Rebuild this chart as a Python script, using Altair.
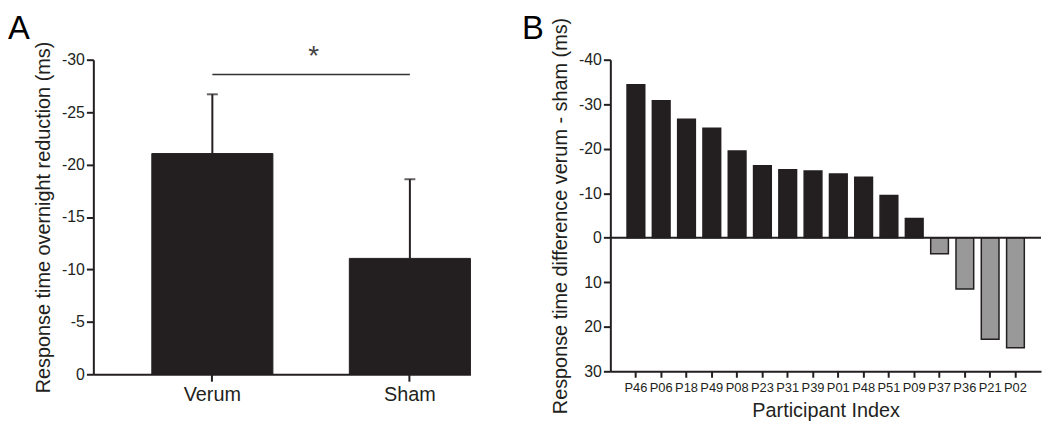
import altair as alt
import pandas as pd

# ---- Panel A data ----
groups = ["Verum", "Sham"]
means = [-21.05, -11.05]
err_tops = [-26.7, -18.6]
sig_level = -28.6

# ---- Panel B data ----
participants = ["P46", "P06", "P18", "P49", "P08", "P23", "P31", "P39",
                "P01", "P48", "P51", "P09", "P37", "P36", "P21", "P02"]
diffs = [-34.4, -30.8, -26.6, -24.6, -19.5, -16.2, -15.3, -15.0,
         -14.3, -13.6, -9.5, -4.3, 3.6, 11.5, 22.8, 24.7]

a_ticks = [-30, -25, -20, -15, -10, -5, 0]
b_ticks = [-40, -30, -20, -10, 0, 10, 20, 30]

INK = "#231f20"
GRAY = "#999999"
FONT = "Liberation Sans"

dfA = pd.DataFrame({"group": groups, "mean": means, "err": err_tops})
dfB = pd.DataFrame({
    "participant": participants,
    "diff": diffs,
    "sign": ["neg" if d < 0 else "pos" for d in diffs],
})

# ---------------- Panel A ----------------
xA = alt.X("group:N", sort=groups,
           scale=alt.Scale(paddingInner=0.387, paddingOuter=0.148, align=1),
           axis=alt.Axis(title=None, labelAngle=0, labelFontSize=20,
                         labelPadding=3, tickSize=7))
yA_scale = alt.Scale(domain=[-30, 0], reverse=True, nice=False)
yA = alt.Y("mean:Q", scale=yA_scale,
           axis=alt.Axis(values=a_ticks, labelExpr="'' + datum.value",
                         title="Response time overnight reduction (ms)",
                         titleFontSize=20, titlePadding=8, labelFontSize=16,
                         tickSize=7, labelPadding=2))

baseA = alt.Chart(dfA)
barsA = baseA.mark_bar(color=INK, stroke=INK, strokeWidth=1).encode(x=xA, y=yA)
errA = baseA.mark_rule(color=INK, strokeWidth=2).encode(
    x=alt.X("group:N", sort=groups), y=alt.Y("err:Q"), y2="mean:Q")
capA = baseA.mark_tick(color=INK, thickness=2, size=11, orient="horizontal").encode(
    x=alt.X("group:N", sort=groups), y=alt.Y("err:Q"))

sigA = alt.Chart(pd.DataFrame({"s": ["*"]})).mark_rule(color="#333333", strokeWidth=1.5).encode(
    x=alt.datum("Verum"), x2=alt.datum("Sham"), y=alt.datum(sig_level))
starA = alt.Chart(pd.DataFrame({"s": ["*"]})).mark_text(
    fontSize=28, font=FONT, color="#444444", dx=102, dy=-17, baseline="middle").encode(
    x=alt.datum("Verum"), y=alt.datum(sig_level), text="s:N")
letterA = alt.Chart(pd.DataFrame({"t": ["A"]})).mark_text(
    fontSize=33, font=FONT, color="#000000", align="left", baseline="alphabetic").encode(
    x=alt.value(-86), y=alt.value(-20.5), text="t:N")

panelA = alt.layer(barsA, errA, capA, sigA, starA, letterA).properties(width=380, height=317)

# ---------------- Panel B ----------------
xB = alt.X("participant:N", sort=participants,
           scale=alt.Scale(paddingInner=0.3, paddingOuter=0.66),
           axis=alt.Axis(title="Participant Index", labelAngle=0, labelFontSize=13,
                         labelOverlap=False, labelBound=False, labelPadding=4,
                         tickSize=6, titleFontSize=20, titlePadding=7,
                         titleFontWeight="normal"))
yB = alt.Y("diff:Q", scale=alt.Scale(domain=[-40, 30], reverse=True, nice=False),
           axis=alt.Axis(values=b_ticks, labelExpr="'' + datum.value",
                         title="Response time difference verum - sham (ms)",
                         titleFontSize=20, titlePadding=8, labelFontSize=16,
                         tickSize=7, labelPadding=2))

barsB = alt.Chart(dfB).mark_bar(stroke=INK, strokeWidth=1.5).encode(
    x=xB, y=yB,
    color=alt.Color("sign:N", scale=alt.Scale(domain=["neg", "pos"], range=[INK, GRAY]),
                    legend=None))
zeroB = alt.Chart(pd.DataFrame({"z": [0]})).mark_rule(color=INK, strokeWidth=2).encode(
    y=alt.datum(0))
letterB = alt.Chart(pd.DataFrame({"t": ["B"]})).mark_text(
    fontSize=33, font=FONT, color="#000000", align="left", baseline="alphabetic").encode(
    x=alt.value(-89), y=alt.value(-20.5), text="t:N")

panelB = alt.layer(barsB, zeroB, letterB).properties(width=434, height=314)

chart = alt.hconcat(panelA, panelB, spacing=51).properties(
    padding={"left": 0, "top": 3.5, "right": 0, "bottom": 0}
).configure_view(stroke=None).configure_axis(
    grid=False, domainColor=INK, domainWidth=2, tickColor=INK, tickWidth=2,
    labelColor=INK, titleColor=INK, labelFont=FONT, titleFont=FONT,
    titleFontWeight="normal"
)

chart.save("out.html", embed_options={"renderer": "svg", "actions": False})
